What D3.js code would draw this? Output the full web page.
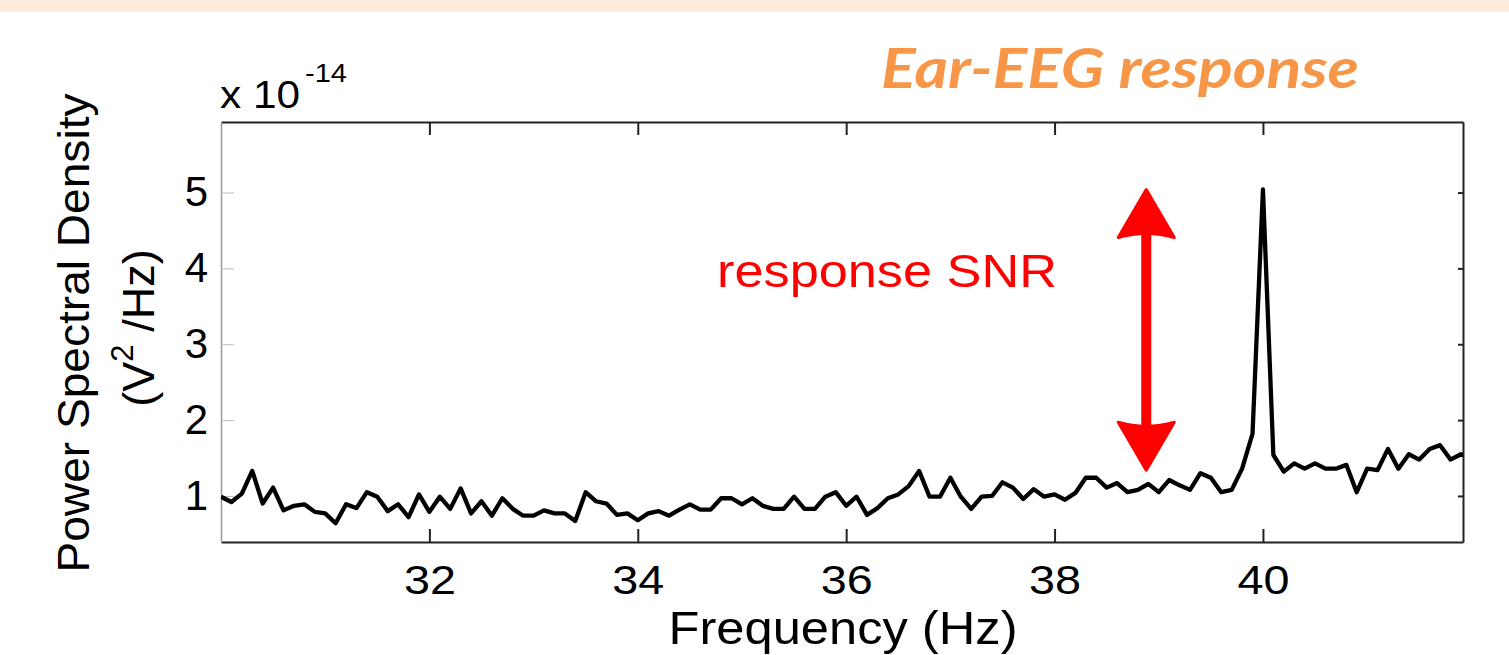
<!DOCTYPE html>
<html>
<head>
<meta charset="utf-8">
<script src="https://cdn.jsdelivr.net/npm/d3@7"></script>
<style>
  html, body { margin: 0; padding: 0; background: #fff; }
  svg { display: block; font-family: Arial, "Liberation Sans", sans-serif; }
</style>
</head>
<body>
<div id="chart"></div>
<script>
"use strict"

// frequency bins (Hz)
const freqs = [
  30.0, 30.1, 30.2, 30.3, 30.4, 30.5, 30.6, 30.7, 30.8, 30.9,
  31.0, 31.1, 31.2, 31.3, 31.4, 31.5, 31.6, 31.7, 31.8, 31.9,
  32.0, 32.1, 32.2, 32.3, 32.4, 32.5, 32.6, 32.7, 32.8, 32.9,
  33.0, 33.1, 33.2, 33.3, 33.4, 33.5, 33.6, 33.7, 33.8, 33.9,
  34.0, 34.1, 34.2, 34.3, 34.4, 34.5, 34.6, 34.7, 34.8, 34.9,
  35.0, 35.1, 35.2, 35.3, 35.4, 35.5, 35.6, 35.7, 35.8, 35.9,
  36.0, 36.1, 36.2, 36.3, 36.4, 36.5, 36.6, 36.7, 36.8, 36.9,
  37.0, 37.1, 37.2, 37.3, 37.4, 37.5, 37.6, 37.7, 37.8, 37.9,
  38.0, 38.1, 38.2, 38.3, 38.4, 38.5, 38.6, 38.7, 38.8, 38.9,
  39.0, 39.1, 39.2, 39.3, 39.4, 39.5, 39.6, 39.7, 39.8, 39.9,
  40.0, 40.1, 40.2, 40.3, 40.4, 40.5, 40.6, 40.7, 40.8, 40.9,
  41.0, 41.1, 41.2, 41.3, 41.4, 41.5, 41.6, 41.7, 41.8, 41.9,
  42.0
];

// power spectral density, units of 1e-14 V^2/Hz
const psd = [
  0.99, 0.92, 1.03, 1.33, 0.90, 1.11, 0.81, 0.87, 0.89, 0.79,
  0.77, 0.64, 0.89, 0.84, 1.05, 0.99, 0.80, 0.89, 0.72, 1.02,
  0.79, 0.99, 0.83, 1.10, 0.77, 0.93, 0.74, 0.97, 0.83, 0.74,
  0.74, 0.81, 0.77, 0.77, 0.67, 1.05, 0.93, 0.90, 0.75, 0.77,
  0.68, 0.77, 0.80, 0.74, 0.82, 0.89, 0.82, 0.82, 0.97, 0.97,
  0.89, 0.97, 0.87, 0.83, 0.83, 0.99, 0.83, 0.83, 0.99, 1.05,
  0.87, 0.99, 0.75, 0.84, 0.97, 1.02, 1.13, 1.33, 0.99, 0.99,
  1.24, 0.99, 0.83, 0.99, 1.00, 1.18, 1.11, 0.96, 1.09, 0.99,
  1.02, 0.95, 1.04, 1.24, 1.24, 1.11, 1.17, 1.05, 1.08, 1.16,
  1.05, 1.21, 1.14, 1.08, 1.30, 1.24, 1.05, 1.08, 1.36, 1.82,
  5.04, 1.54, 1.32, 1.43, 1.36, 1.43, 1.36, 1.36, 1.41, 1.05,
  1.36, 1.34, 1.62, 1.36, 1.55, 1.48, 1.62, 1.67, 1.48, 1.55,
  1.52
];

const xTicks = [32, 34, 36, 38, 40];
const yTicks = [1, 2, 3, 4, 5];
const xDomain = [30, 41.92];
const yDomain = [0.393, 5.93];

// annotation: double arrow spanning noise floor to peak
const arrowFreq = 38.88;
const arrowSpan = [5.04, 1.34];

const W = 1509, H = 655;
const margin = {left: 221, right: 1463, top: 122, bottom: 542};

const svg = d3.select("#chart").append("svg")
  .attr("width", W)
  .attr("height", H);

// slide header band
svg.append("rect")
  .attr("x", 0).attr("y", 0)
  .attr("width", W).attr("height", 12)
  .attr("fill", "#fdeadb");

const x = d3.scaleLinear().domain(xDomain).range([margin.left, margin.right]);
const y = d3.scaleLinear().domain(yDomain).range([margin.bottom, margin.top]);

svg.append("clipPath").attr("id", "plot-clip")
  .append("rect")
    .attr("x", margin.left).attr("y", margin.top - 10)
    .attr("width", margin.right - margin.left)
    .attr("height", margin.bottom - margin.top + 10);

// axes (MATLAB box style, ticks pointing in)
const gx = svg.append("g")
  .attr("transform", `translate(0,${margin.bottom})`)
  .call(d3.axisBottom(x).tickValues(xTicks).tickFormat(d3.format("d"))
    .tickSizeInner(-13).tickSizeOuter(0).tickPadding(24));
gx.selectAll("text").attr("font-size", 40).attr("fill", "#000")
  .attr("textLength", 52).attr("lengthAdjust", "spacingAndGlyphs");

const gxTop = svg.append("g")
  .attr("transform", `translate(0,${margin.top})`)
  .call(d3.axisTop(x).tickValues(xTicks).tickSizeInner(-13).tickSizeOuter(0).tickFormat(""));

const gy = svg.append("g")
  .attr("transform", `translate(${margin.left},0)`)
  .call(d3.axisLeft(y).tickValues(yTicks).tickFormat(d3.format("d"))
    .tickSizeInner(-13).tickSizeOuter(0).tickPadding(13));
gy.selectAll("text").attr("font-size", 42).attr("fill", "#000");

const gyRight = svg.append("g")
  .attr("transform", `translate(${margin.right},0)`)
  .call(d3.axisRight(y).tickValues(yTicks).tickSizeInner(-5).tickSizeOuter(0).tickFormat(""));

[gx, gxTop, gyRight].forEach(g => {
  g.select(".domain").attr("stroke", "#222").attr("stroke-width", 2);
  g.selectAll(".tick line").attr("stroke", "#222").attr("stroke-width", 2);
});
gy.select(".domain").attr("stroke", "#999").attr("stroke-width", 1.5);
gy.selectAll(".tick line").attr("stroke", "#bbb").attr("stroke-width", 1);

// spectrum line
const line = d3.line()
  .x((d, i) => x(freqs[i]))
  .y(d => y(d));

svg.append("path")
  .datum(psd)
  .attr("clip-path", "url(#plot-clip)")
  .attr("fill", "none")
  .attr("stroke", "#000")
  .attr("stroke-width", 4.3)
  .attr("stroke-linejoin", "round")
  .attr("d", line);

// exponent label
const expo = svg.append("text")
  .attr("x", 220).attr("y", 108)
  .attr("font-size", 38)
  .attr("fill", "#000");
expo.append("tspan").attr("textLength", 80).attr("lengthAdjust", "spacingAndGlyphs").text("x 10");
expo.append("tspan").attr("dx", 5).attr("dy", -26).attr("font-size", 25)
  .attr("textLength", 42).attr("lengthAdjust", "spacingAndGlyphs").text("-14");

// y label
const ylab = svg.append("g")
  .attr("transform", "translate(0,333) rotate(-90)");
ylab.append("text")
  .attr("x", 0).attr("y", 89)
  .attr("text-anchor", "middle")
  .attr("font-size", 44)
  .attr("textLength", 479).attr("lengthAdjust", "spacingAndGlyphs")
  .text("Power Spectral Density");
const ylab2 = ylab.append("text")
  .attr("x", 5).attr("y", 154)
  .attr("text-anchor", "middle")
  .attr("font-size", 45);
ylab2.append("tspan").text("(V");
ylab2.append("tspan").attr("dy", -21).attr("font-size", 31).text("2");
ylab2.append("tspan").attr("dy", 21).text(" /Hz)");

// x label
svg.append("text")
  .attr("x", (margin.left + margin.right) / 2 + 1)
  .attr("y", 644)
  .attr("text-anchor", "middle")
  .attr("font-size", 46)
  .attr("textLength", 349).attr("lengthAdjust", "spacingAndGlyphs")
  .text("Frequency (Hz)");

// title
svg.append("text")
  .attr("x", 881).attr("y", 88)
  .attr("font-family", "Lato, 'Open Sans', sans-serif")
  .attr("font-weight", "bold")
  .attr("font-style", "italic")
  .attr("font-size", 55)
  .attr("fill", "#f79646")
  .attr("textLength", 478).attr("lengthAdjust", "spacingAndGlyphs")
  .text("Ear-EEG response");

// SNR annotation
svg.append("text")
  .attr("x", 717).attr("y", 287)
  .attr("font-size", 46)
  .attr("fill", "#ff0000")
  .attr("textLength", 340).attr("lengthAdjust", "spacingAndGlyphs")
  .text("response SNR");

const ax = x(arrowFreq), ayTop = y(arrowSpan[0]), ayBot = y(arrowSpan[1]);
const headLen = 48, headHalf = 28;
svg.append("line")
  .attr("x1", ax).attr("x2", ax)
  .attr("y1", ayTop + headLen - 4).attr("y2", ayBot - headLen + 4)
  .attr("stroke", "#ff0000")
  .attr("stroke-width", 10);
svg.append("path")
  .attr("fill", "#ff0000")
  .attr("stroke", "#ff0000")
  .attr("stroke-width", 3)
  .attr("stroke-linejoin", "round")
  .attr("d", `M${ax},${ayTop} L${ax + headHalf},${ayTop + headLen} Q${ax},${ayTop + headLen - 8} ${ax - headHalf},${ayTop + headLen} Z`);
svg.append("path")
  .attr("fill", "#ff0000")
  .attr("stroke", "#ff0000")
  .attr("stroke-width", 3)
  .attr("stroke-linejoin", "round")
  .attr("d", `M${ax},${ayBot} L${ax + headHalf},${ayBot - headLen} Q${ax},${ayBot - headLen + 8} ${ax - headHalf},${ayBot - headLen} Z`);
</script>
</body>
</html>
